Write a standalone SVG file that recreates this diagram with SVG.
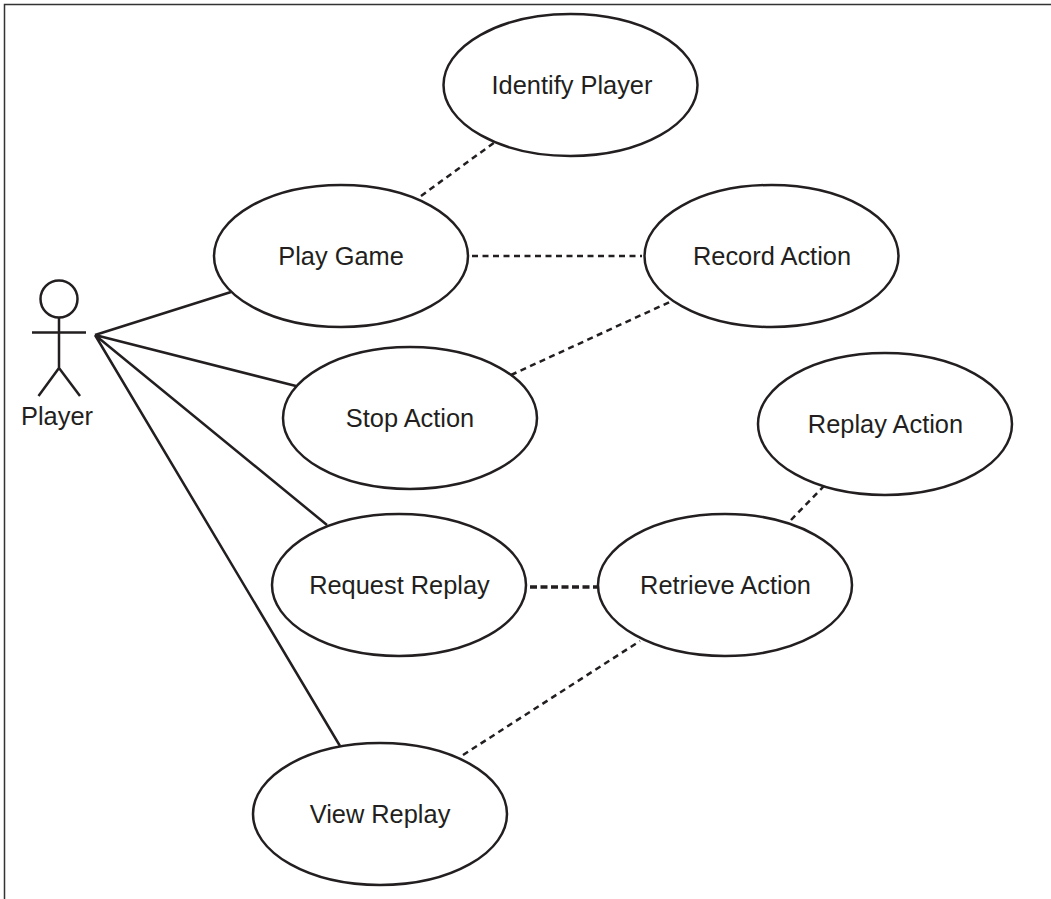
<svg xmlns="http://www.w3.org/2000/svg" width="1051" height="899" viewBox="0 0 1051 899">
<style>
.n{fill:#fff;stroke:#231f20;stroke-width:2.5}
.t{font-family:"Liberation Sans",Arial,sans-serif;font-size:25.4px;fill:#231f20;text-anchor:middle}
.s{fill:none;stroke:#231f20;stroke-width:2.5}
.b{fill:none;stroke:#333;stroke-width:1.5}
.d{fill:none;stroke:#231f20;stroke-width:2.5;stroke-dasharray:6 4.5}
.h{fill:none;stroke:#231f20;stroke-width:3.6;stroke-dasharray:7 3.5}
</style>
<rect width="1051" height="899" fill="#fff"/>
<path class="b" d="M4.500 899V4.500H1051"/>
<g id="connectors">
<path class="s" d="M95 335L231 292M95 335L296 386M95 335L327 525M95 335L340 746"/>
<path class="d" d="M421 196L495 142M472 256H642M511 375L674 300M791 520L824 486M463 755L640 641"/>
<path class="h" d="M530 587H598"/>
</g>
<g id="player"><circle class="s" cx="59" cy="299" r="18.500"/><path class="s" d="M59 318V368M32 332.500H86M59 368L38.500 396M59 368L80 396"/><text class="t" x="57" y="425">Player</text></g>
<g id="identify"><ellipse class="n" cx="570.500" cy="85" rx="127" ry="71"/><text class="t" x="572" y="94">Identify Player</text></g>
<g id="play"><ellipse class="n" cx="341" cy="256" rx="127" ry="71"/><text class="t" x="341" y="265">Play Game</text></g>
<g id="record"><ellipse class="n" cx="771.500" cy="256" rx="127" ry="71"/><text class="t" x="772" y="265">Record Action</text></g>
<g id="stop"><ellipse class="n" cx="410" cy="418" rx="127" ry="71"/><text class="t" x="410" y="427">Stop Action</text></g>
<g id="replay"><ellipse class="n" cx="885" cy="424" rx="127" ry="71"/><text class="t" x="885.500" y="433">Replay Action</text></g>
<g id="request"><ellipse class="n" cx="399" cy="585" rx="127" ry="71"/><text class="t" x="399.500" y="594">Request Replay</text></g>
<g id="retrieve"><ellipse class="n" cx="725" cy="585" rx="127" ry="71"/><text class="t" x="725.500" y="594">Retrieve Action</text></g>
<g id="view"><ellipse class="n" cx="380" cy="814" rx="127" ry="71"/><text class="t" x="380" y="823">View Replay</text></g>
</svg>
